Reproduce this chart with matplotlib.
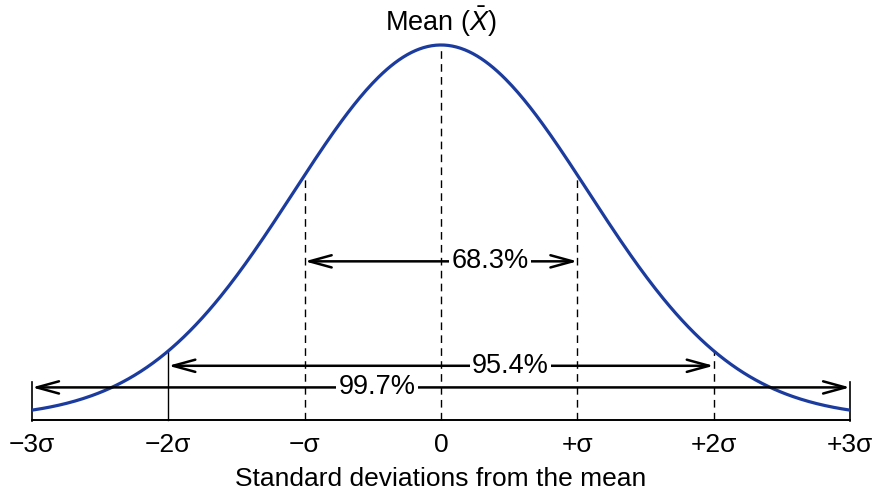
import numpy as np
import matplotlib
matplotlib.use("Agg")
import matplotlib.pyplot as plt
from matplotlib.patches import FancyArrowPatch

plt.rcParams['font.family'] = ['Liberation Sans', 'DejaVu Sans']
plt.rcParams['mathtext.fontset'] = 'custom'
plt.rcParams['mathtext.rm'] = 'Liberation Sans'
plt.rcParams['mathtext.it'] = 'Liberation Sans:italic'

# positions along the axis, in standard deviations
sigma_pos = [-3, -2, -1, 0, 1, 2, 3]
tick_labels = ['\u22123\u03c3', '\u22122\u03c3', '\u2212\u03c3', '0', '+\u03c3', '+2\u03c3', '+3\u03c3']
dashed = [False, False, True, True, True, True, False]

# coverage bands: half width (in sigma), label, arrow height, label position
band_width = [1, 2, 3]
band_label = ['68.3%', '95.4%', '99.7%']
band_y = [0.420, 0.140, 0.082]
band_text_x = [0.36, 0.51, -0.47]

# drawn curve: normal shape, spread
curve_sd = 1.08

blue = '#1b3c9e'

def curve(x):
    return np.exp(-np.asarray(x) ** 2 / (2 * curve_sd ** 2))

fig = plt.figure(figsize=(8.78, 4.90), dpi=100)
ax = fig.add_axes([0, 0, 1, 1])
ax.set_xlim(-3.235, 3.205)
ax.set_ylim(-0.193, 1.1206)
ax.axis('off')

xs = np.linspace(-3, 3, 400)
ax.plot(xs, curve(xs), color=blue, lw=2.3, zorder=3, solid_capstyle='butt')

# baseline and end ticks
ax.plot([-3, 3], [-0.005, -0.005], color='black', lw=1.4)
for s in [-3, 3]:
    ax.plot([s, s], [-0.008, 0.097], color='black', lw=1.2)

# verticals from baseline to curve
for s, d in zip(sigma_pos[1:-1], dashed[1:-1]):
    top = curve(s)
    if d:
        ax.plot([s, s], [-0.005, top], color='black', lw=1.0, dashes=(5.5, 3.8), zorder=2)
    else:
        ax.plot([s, s], [-0.005, top], color='black', lw=1.0, zorder=2)

# arrows with labels
for w, lab, y, tx in zip(band_width, band_label, band_y, band_text_x):
    arr = FancyArrowPatch((-w, y), (w, y), arrowstyle='<->,head_length=0.8,head_width=0.22',
                          mutation_scale=20, color='black', lw=1.8, shrinkA=0, shrinkB=0, zorder=4)
    ax.add_patch(arr)
    ax.text(tx, y, lab, ha='center', va='center', fontsize=19.5, zorder=5,
            bbox=dict(facecolor='white', edgecolor='none', pad=1.5))

# tick labels
for s, lab in zip(sigma_pos, tick_labels):
    ax.text(s, -0.072, lab, ha='center', va='center', fontsize=19)

ax.text(0, -0.163, 'Standard deviations from the mean', ha='center', va='center', fontsize=19)
ax.text(0, 1.062, r'Mean ($\bar{X}$)', ha='center', va='center', fontsize=19.5)

fig.savefig('out.png', dpi=100)
